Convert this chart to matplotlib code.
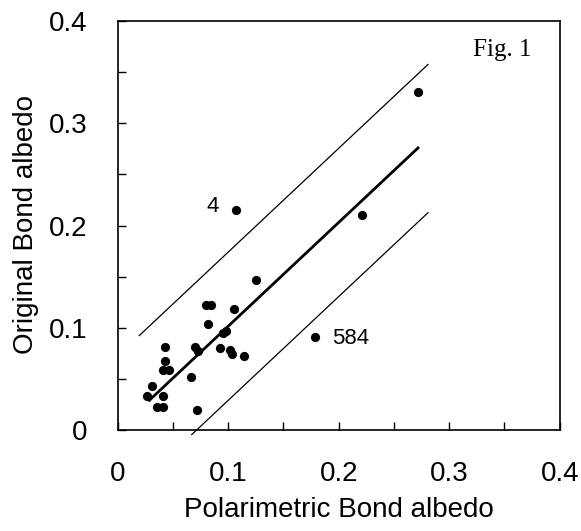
import matplotlib
matplotlib.use("Agg")
import matplotlib.pyplot as plt
import numpy as np

# Data
polarimetric = [0.2718, 0.2210, 0.1249, 0.0799, 0.0844, 0.1055, 0.0820, 0.0956, 0.0977,
                0.0428, 0.0700, 0.0724, 0.0926, 0.1016, 0.1032, 0.1146, 0.0428, 0.0407,
                0.0467, 0.0661, 0.0308, 0.0268, 0.0413, 0.0353, 0.0407, 0.0715, 0.1070,
                0.1786]
original = [0.3306, 0.2103, 0.1464, 0.1222, 0.1222, 0.1180, 0.1040, 0.0946, 0.0968,
            0.0812, 0.0815, 0.0773, 0.0799, 0.0782, 0.0740, 0.0727, 0.0675, 0.0587,
            0.0587, 0.0518, 0.0433, 0.0333, 0.0333, 0.0225, 0.0225, 0.0193, 0.2150,
            0.0913]
labels = {"4": (0.1070, 0.2150), "584": (0.1786, 0.0913)}

fit_slope = 1.015
fit_intercept = 0.0
band_offset = 0.0725
fit_x_range = [0.0277, 0.2727]
upper_x_range = [0.0195, 0.2808]
lower_x_range = [0.0670, 0.2808]

ticks = [0, 0.1, 0.2, 0.3, 0.4]
tick_labels = ["0", "0.1", "0.2", "0.3", "0.4"]
minor_ticks = [0.05, 0.15, 0.25, 0.35]

plt.rcParams['font.family'] = ['Liberation Sans', 'DejaVu Sans']

fig = plt.figure(figsize=(5.81, 5.31), dpi=100)
W, H = 581, 531
ax = fig.add_axes([117.7 / W, 1 - 430 / H, (559.7 - 117.7) / W, (430 - 21) / H])

ax.set_xlim(0, 0.4)
ax.set_ylim(0, 0.4)

xf = np.array(fit_x_range)
ax.plot(xf, fit_slope * xf + fit_intercept, color='black', lw=2.0, solid_capstyle='butt', clip_on=False)
xu = np.array(upper_x_range)
ax.plot(xu, fit_slope * xu + fit_intercept + band_offset, color='black', lw=0.9, clip_on=False)
xl = np.array(lower_x_range)
ax.plot(xl, fit_slope * xl + fit_intercept - band_offset, color='black', lw=0.9, clip_on=False)

ax.scatter(polarimetric, original, s=44, color='black', zorder=3, linewidths=0)

ax.annotate("4", xy=labels["4"], xytext=(-17, 4), textcoords='offset pixels',
            ha='right', va='center', fontsize=16)
ax.annotate("584", xy=labels["584"], xytext=(17, -2), textcoords='offset pixels',
            ha='left', va='center', fontsize=16)

ax.text(0.348, 0.372, "Fig. 1", family=['Liberation Serif', 'DejaVu Serif'],
        fontsize=18, ha='center', va='center')

ax.set_xticks(ticks)
ax.set_xticklabels(tick_labels)
ax.set_yticks(ticks)
ax.set_yticklabels(tick_labels)
ax.set_xticks(minor_ticks, minor=True)
ax.set_yticks(minor_ticks, minor=True)
ax.tick_params(which='both', direction='in', length=6, width=1, top=False, right=False,
               labelsize=20)
ax.tick_params(axis='x', which='major', pad=22)
ax.tick_params(axis='y', which='major', pad=22)
for s in ax.spines.values():
    s.set_linewidth(1.2)

fig.text(338.7 / W, 1 - 510 / H, "Polarimetric Bond albedo", fontsize=20,
         ha='center', va='center')
fig.text(26 / W, 1 - 225 / H, "Original Bond albedo", fontsize=20,
         ha='center', va='center', rotation=90)

fig.savefig("out.png", dpi=100)
